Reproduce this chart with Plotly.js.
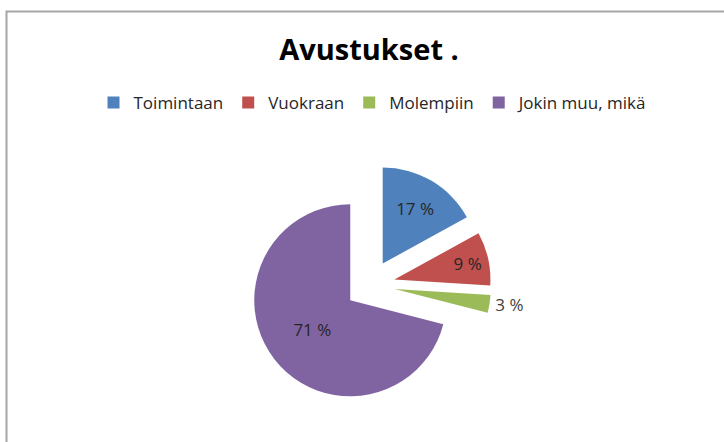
<!DOCTYPE html>
<html>
<head>
<meta charset="utf-8">
<script src="https://cdn.plot.ly/plotly-3.0.1.min.js"></script>
<style>html,body{margin:0;padding:0;background:#fff;}#chart{width:724px;height:442px;}</style>
</head>
<body>
<div id="chart"></div>
<script>
var categories = ["Toimintaan", "Vuokraan", "Molempiin", "Jokin muu, mikä"];
var values = [17, 9, 3, 71];
var valueLabels = values.map(function (v) { return v + " %"; });
var colors = ["#4F81BD", "#C0504D", "#9BBB59", "#8064A2"];
var W = 724, H = 442;
var cx = 370, cy = 285, boxSize = 242;

var trace = {
  type: "pie",
  labels: categories,
  values: values,
  text: valueLabels,
  textinfo: "text",
  sort: false,
  direction: "clockwise",
  rotation: 0,
  pull: [0.26, 0.26, 0.26, 0.26],
  marker: { colors: colors, line: { width: 0 } },
  textposition: ["inside", "inside", "outside", "inside"],
  insidetextorientation: "horizontal",
  textfont: { family: "Open Sans, sans-serif", size: 17, color: "#262626" },
  outsidetextfont: { family: "Open Sans, sans-serif", size: 17, color: "#404040" },
  domain: {
    x: [(cx - boxSize / 2) / W, (cx + boxSize / 2) / W],
    y: [1 - (cy + boxSize / 2) / H, 1 - (cy - boxSize / 2) / H]
  },
  hoverinfo: "none"
};

var layout = {
  width: W, height: H,
  margin: { l: 0, r: 0, t: 0, b: 0 },
  paper_bgcolor: "#ffffff",
  title: {
    text: "<b>Avustukset .</b>",
    font: { family: "Open Sans, sans-serif", size: 29, color: "#000000" },
    x: 369 / W, xanchor: "center",
    y: 1 - 50 / H, yanchor: "middle"
  },
  showlegend: true,
  legend: {
    orientation: "h",
    x: 373 / W, xanchor: "center",
    y: 1 - 103 / H, yanchor: "middle",
    font: { family: "Open Sans, sans-serif", size: 17, color: "#262626" },
    traceorder: "normal",
    itemwidth: 30
  },
  shapes: [{
    type: "rect", xref: "paper", yref: "paper",
    x0: 6.5 / W, x1: 1.05, y0: -0.05, y1: 1 - 11.5 / H,
    line: { color: "#A6A6A6", width: 2 }, fillcolor: "rgba(0,0,0,0)"
  }]
};

Plotly.newPlot("chart", [trace], layout, { displayModeBar: false, staticPlot: true });
</script>
</body>
</html>
